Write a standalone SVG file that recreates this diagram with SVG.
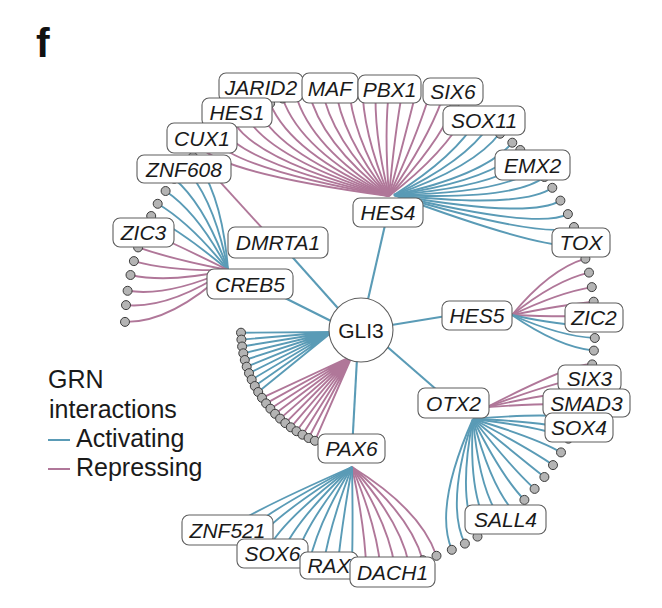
<svg xmlns="http://www.w3.org/2000/svg" width="662" height="608" viewBox="0 0 662 608">
<style>
.a{fill:none;stroke:#5a9bb6;stroke-width:1.9}
.r{fill:none;stroke:#b07799;stroke-width:1.9}
.h{fill:none;stroke:#5a9bb6;stroke-width:2.1}
.lf{fill:#b4b4b4;stroke:#3c3c3c;stroke-width:1}
.bx{fill:#fff;stroke:#5e5e5e;stroke-width:1.1}
.t{font-family:"Liberation Sans",Arial,Helvetica,sans-serif;font-size:21px;font-style:italic;fill:#1a1a1a;text-anchor:middle}
.g{font-family:"Liberation Sans",Arial,Helvetica,sans-serif;font-size:21px;fill:#1a1a1a;text-anchor:middle}
.lg{font-family:"Liberation Sans",Arial,Helvetica,sans-serif;font-size:25px;fill:#1a1a1a}
</style>
<rect width="662" height="608" fill="#fff"/>
<text x="36" y="57" font-family="Liberation Sans,Arial,sans-serif" font-weight="bold" font-size="41" fill="#111">f</text>

<g id="connectors">
<path class="h" d="M361,330 L388,212"/>
<path class="h" d="M361,334 L278,241"/>
<path class="h" d="M361,336 L250,280.5"/>
<path class="h" d="M361,330 L477,311"/>
<path class="h" d="M361,324 L453,404"/>
<path class="h" d="M358,340 L352,450"/>
<path class="r" d="M275,242.2 L205,165.3"/>
<path class="r" d="M389,196 Q445.8,152.4 466.7,111.4"/>
<path class="r" d="M389,196 Q436.4,146.3 454.4,105.4"/>
<path class="r" d="M389,196 Q426.6,141.3 441.9,100.2"/>
<path class="r" d="M389,196 Q416.4,137 429.1,95.7"/>
<path class="r" d="M389,196 Q405.7,133.8 416,92"/>
<path class="r" d="M389,196 Q394.9,131.5 402.8,89"/>
<path class="r" d="M389,196 Q383.9,130.2 389.4,86.9"/>
<path class="r" d="M389,196 Q373,130 376,85.6"/>
<path class="r" d="M389,196 Q362,130.6 362.5,85"/>
<path class="r" d="M389,196 Q351.1,132.3 348.9,85.3"/>
<path class="r" d="M389,196 Q340.5,134.8 335.4,86.3"/>
<path class="r" d="M389,196 Q330.2,138.3 322,88.2"/>
<path class="r" d="M389,196 Q320.2,142.4 308.7,90.8"/>
<path class="r" d="M389,196 Q310.7,147.4 295.6,94.3"/>
<path class="r" d="M389,196 Q300.7,150.3 282.7,98.5"/>
<path class="r" d="M389,196 Q290.9,153.6 270.1,103.4"/>
<path class="r" d="M389,196 Q280.3,155.9 257.7,109.1"/>
<path class="r" d="M389,196 Q269.7,158.6 245.7,115.5"/>
<path class="r" d="M389,196 Q258.9,161.8 234.1,122.7"/>
<path class="r" d="M389,196 Q247.9,165.3 222.9,130.5"/>
<path class="r" d="M389,196 Q236.6,169.3 212.1,139"/>
<path class="r" d="M389,196 Q225.2,173.7 201.8,148"/>
<path class="a" d="M394,195 Q553.5,254.1 580.8,244.2"/>
<path class="a" d="M394,195 Q545.7,239.8 574,227"/>
<path class="a" d="M394,195 Q538.5,229.6 567.9,214.1"/>
<path class="a" d="M394,195 Q530.6,218.9 560.4,200.6"/>
<path class="a" d="M394,195 Q522.4,208.8 552.3,187.8"/>
<path class="a" d="M394,195 Q514.7,200.5 544.4,177"/>
<path class="a" d="M394,195 Q507.1,193.2 536.6,167.3"/>
<path class="a" d="M394,195 Q499.5,186.5 528.5,158.3"/>
<path class="a" d="M394,195 Q491.9,180.4 520.3,150"/>
<path class="a" d="M394,195 Q484.6,175.2 512.3,142.7"/>
<path class="a" d="M394,195 Q474.5,167.2 500.1,132.7"/>
<path class="a" d="M394,195 Q465.3,161.6 489.4,125"/>
<path class="a" d="M394,195 Q455.8,156.3 478.2,117.8"/>
<path class="a" d="M228,270 Q222,192 193,156.8"/>
<path class="a" d="M228,270 Q214,198 184,166.6"/>
<path class="a" d="M228,270 Q205.8,205.7 174.3,178.7"/>
<path class="a" d="M228,270 Q198.9,213.7 165.6,191"/>
<path class="a" d="M228,270 Q190.9,223.4 157.7,203.8"/>
<path class="a" d="M228,270 Q184.6,233.2 151.2,216"/>
<path class="r" d="M228,270 Q178.4,245.3 144.5,230.5"/>
<path class="r" d="M228,270 Q173.1,259.6 138.1,247.4"/>
<path class="r" d="M228,270 Q170.3,271.4 133.9,261.1"/>
<path class="r" d="M228,270 Q168.6,283.4 130.5,275"/>
<path class="r" d="M228,270 Q168.1,296.9 127.6,290.8"/>
<path class="r" d="M228,270 Q169,309 126,305.1"/>
<path class="r" d="M228,270 Q171.1,322.9 125,321.9"/>
<path class="r" d="M512,315 Q549.9,269.1 585.4,258.7"/>
<path class="r" d="M512,315 Q554.7,280.5 589,272.6"/>
<path class="r" d="M512,315 Q558.5,292.7 591.8,287.1"/>
<path class="r" d="M512,315 Q560.8,305.2 593.7,301.7"/>
<path class="r" d="M512,315 Q561.6,317.2 594.7,315.6"/>
<path class="a" d="M512,315 Q561.5,325.9 595,325.7"/>
<path class="a" d="M512,315 Q560.4,336.4 594.8,338"/>
<path class="a" d="M512,315 Q558.4,347.1 593.9,350.6"/>
<path class="r" d="M487,407 Q575.4,361.8 592.2,364.4"/>
<path class="r" d="M487,407 Q574,375.1 589.6,378.5"/>
<path class="r" d="M487,407 Q571.8,388.4 586.2,392.5"/>
<path class="r" d="M487,407 Q568.6,401.5 582.1,406.2"/>
<path class="a" d="M473,419 Q557.9,411.6 577.1,419.6"/>
<path class="a" d="M473,419 Q552.2,421.7 572.1,431.2"/>
<path class="a" d="M473,419 Q547.6,427.9 568.4,438.7"/>
<path class="a" d="M473,419 Q538.5,438.8 561,452.4"/>
<path class="a" d="M473,419 Q530.3,449.3 553,465.1"/>
<path class="a" d="M473,419 Q521.3,458.8 544.4,477"/>
<path class="a" d="M473,419 Q511.7,468.3 534.6,488.9"/>
<path class="a" d="M473,419 Q501.6,476.6 524.4,499.9"/>
<path class="a" d="M473,419 Q490.1,484.2 512.9,510.8"/>
<path class="a" d="M473,419 Q479.3,490.9 501.4,520.3"/>
<path class="a" d="M473,419 Q468.2,496.4 489.7,528.8"/>
<path class="a" d="M473,419 Q456.9,500.9 477.5,536.6"/>
<path class="a" d="M473,419 Q445.4,504.5 464.9,543.6"/>
<path class="a" d="M473,419 Q433.7,507.1 451.8,549.8"/>
<path class="r" d="M352,467 Q420.5,509.3 436.5,555.8"/>
<path class="r" d="M352,467 Q410.3,515.1 422.8,560.2"/>
<path class="r" d="M352,467 Q399.6,519.8 408.9,563.7"/>
<path class="r" d="M352,467 Q388.3,523.6 394.7,566.3"/>
<path class="r" d="M352,467 Q376.8,526.3 380.5,568.1"/>
<path class="r" d="M352,467 Q365.1,527.7 366.2,568.9"/>
<path class="a" d="M352,467 Q353.2,528.1 351.8,568.9"/>
<path class="a" d="M352,467 Q341.4,527.3 337.5,567.9"/>
<path class="a" d="M352,467 Q329.6,525.3 323.2,566"/>
<path class="a" d="M352,467 Q318.2,522.1 309.1,563.3"/>
<path class="a" d="M352,467 Q305.7,523.1 295.2,559.6"/>
<path class="a" d="M352,467 Q292.9,523.2 281.6,555.1"/>
<path class="a" d="M352,467 Q279.7,522.6 268.2,549.8"/>
<path class="a" d="M352,467 Q266.1,521.5 255.1,543.6"/>
<path class="a" d="M352,467 Q252.3,519.7 242.5,536.6"/>
<path class="a" d="M352,467 Q237.9,517.4 230.3,528.8"/>
<path class="a" d="M332,332 L241,332.7 M332,332 L241.4,339.6 M332,332 L242.1,346.5 M332,332 L243.3,353.3 M332,332 L244.8,360 M332,332 L246.7,366.7 M332,332 L249,373.2 M332,332 L251.7,379.6 M332,332 L254.8,386 M332,332 L258.2,392"/>
<path class="r" d="M352,356 L262,397.8 M352,356 L266.1,403.4 M352,356 L270.4,408.7 M352,356 L275.1,413.8 M352,356 L280.1,418.6 M352,356 L285.3,423.1 M352,356 L290.8,427.3 M352,356 L296.5,431.2 M352,356 L302.5,434.7 M352,356 L308.6,438 M352,356 L314.9,440.8"/>
</g>

<g id="leaves">
<circle class="lf" cx="466.7" cy="111.4" r="4.5"/><circle class="lf" cx="454.4" cy="105.4" r="4.5"/><circle class="lf" cx="441.9" cy="100.2" r="4.5"/><circle class="lf" cx="429.1" cy="95.7" r="4.5"/><circle class="lf" cx="416" cy="92" r="4.5"/><circle class="lf" cx="402.8" cy="89" r="4.5"/><circle class="lf" cx="389.4" cy="86.9" r="4.5"/><circle class="lf" cx="376" cy="85.6" r="4.5"/><circle class="lf" cx="362.5" cy="85" r="4.5"/><circle class="lf" cx="348.9" cy="85.3" r="4.5"/><circle class="lf" cx="335.4" cy="86.3" r="4.5"/><circle class="lf" cx="322" cy="88.2" r="4.5"/><circle class="lf" cx="308.7" cy="90.8" r="4.5"/><circle class="lf" cx="295.6" cy="94.3" r="4.5"/><circle class="lf" cx="282.7" cy="98.5" r="4.5"/><circle class="lf" cx="270.1" cy="103.4" r="4.5"/><circle class="lf" cx="257.7" cy="109.1" r="4.5"/><circle class="lf" cx="245.7" cy="115.5" r="4.5"/><circle class="lf" cx="234.1" cy="122.7" r="4.5"/><circle class="lf" cx="222.9" cy="130.5" r="4.5"/><circle class="lf" cx="212.1" cy="139" r="4.5"/><circle class="lf" cx="201.8" cy="148" r="4.5"/>
<circle class="lf" cx="580.8" cy="244.2" r="4.5"/><circle class="lf" cx="574" cy="227" r="4.5"/><circle class="lf" cx="567.9" cy="214.1" r="4.5"/><circle class="lf" cx="560.4" cy="200.6" r="4.5"/><circle class="lf" cx="552.3" cy="187.8" r="4.5"/><circle class="lf" cx="544.4" cy="177" r="4.5"/><circle class="lf" cx="536.6" cy="167.3" r="4.5"/><circle class="lf" cx="528.5" cy="158.3" r="4.5"/><circle class="lf" cx="520.3" cy="150" r="4.5"/><circle class="lf" cx="512.3" cy="142.7" r="4.5"/><circle class="lf" cx="500.1" cy="133.7" r="4.5"/><circle class="lf" cx="489.4" cy="125" r="4.5"/><circle class="lf" cx="478.2" cy="117.8" r="4.5"/>
<circle class="lf" cx="193" cy="156.8" r="4.5"/><circle class="lf" cx="184" cy="166.6" r="4.5"/><circle class="lf" cx="174.3" cy="178.7" r="4.5"/><circle class="lf" cx="165.6" cy="191" r="4.5"/><circle class="lf" cx="157.7" cy="203.8" r="4.5"/><circle class="lf" cx="151.2" cy="216" r="4.5"/><circle class="lf" cx="144.5" cy="230.5" r="4.5"/><circle class="lf" cx="138.1" cy="247.4" r="4.5"/><circle class="lf" cx="133.9" cy="261.1" r="4.5"/><circle class="lf" cx="130.5" cy="275" r="4.5"/><circle class="lf" cx="127.6" cy="290.8" r="4.5"/><circle class="lf" cx="126" cy="305.1" r="4.5"/><circle class="lf" cx="125" cy="321.9" r="4.5"/>
<circle class="lf" cx="585.4" cy="258.7" r="4.5"/><circle class="lf" cx="589" cy="272.6" r="4.5"/><circle class="lf" cx="591.8" cy="287.1" r="4.5"/><circle class="lf" cx="593.7" cy="301.7" r="4.5"/><circle class="lf" cx="594.7" cy="315.6" r="4.5"/><circle class="lf" cx="595" cy="325.7" r="4.5"/><circle class="lf" cx="594.8" cy="338" r="4.5"/><circle class="lf" cx="593.9" cy="350.6" r="4.5"/>
<circle class="lf" cx="592.2" cy="364.4" r="4.5"/><circle class="lf" cx="589.6" cy="378.5" r="4.5"/><circle class="lf" cx="586.2" cy="392.5" r="4.5"/><circle class="lf" cx="582.1" cy="406.2" r="4.5"/><circle class="lf" cx="577.1" cy="419.6" r="4.5"/><circle class="lf" cx="572.1" cy="431.2" r="4.5"/><circle class="lf" cx="568.4" cy="438.7" r="4.5"/><circle class="lf" cx="561" cy="452.4" r="4.5"/><circle class="lf" cx="553" cy="465.1" r="4.5"/><circle class="lf" cx="544.4" cy="477" r="4.5"/><circle class="lf" cx="534.6" cy="488.9" r="4.5"/><circle class="lf" cx="524.4" cy="499.9" r="4.5"/><circle class="lf" cx="512.9" cy="510.8" r="4.5"/><circle class="lf" cx="501.4" cy="520.3" r="4.5"/><circle class="lf" cx="489.7" cy="528.8" r="4.5"/><circle class="lf" cx="477.5" cy="536.6" r="4.5"/><circle class="lf" cx="464.9" cy="543.6" r="4.5"/><circle class="lf" cx="451.8" cy="549.8" r="4.5"/>
<circle class="lf" cx="436.5" cy="555.8" r="4.5"/><circle class="lf" cx="422.8" cy="560.2" r="4.5"/><circle class="lf" cx="408.9" cy="563.7" r="4.5"/><circle class="lf" cx="394.7" cy="566.3" r="4.5"/><circle class="lf" cx="380.5" cy="568.1" r="4.5"/><circle class="lf" cx="366.2" cy="568.9" r="4.5"/><circle class="lf" cx="351.8" cy="568.9" r="4.5"/><circle class="lf" cx="337.5" cy="567.9" r="4.5"/><circle class="lf" cx="323.2" cy="566" r="4.5"/><circle class="lf" cx="309.1" cy="563.3" r="4.5"/><circle class="lf" cx="295.2" cy="559.6" r="4.5"/><circle class="lf" cx="281.6" cy="555.1" r="4.5"/><circle class="lf" cx="268.2" cy="549.8" r="4.5"/><circle class="lf" cx="255.1" cy="543.6" r="4.5"/><circle class="lf" cx="242.5" cy="536.6" r="4.5"/><circle class="lf" cx="230.3" cy="528.8" r="4.5"/>
<circle class="lf" cx="241" cy="332.7" r="4.5"/><circle class="lf" cx="241.4" cy="339.6" r="4.5"/><circle class="lf" cx="242.1" cy="346.5" r="4.5"/><circle class="lf" cx="243.3" cy="353.3" r="4.5"/><circle class="lf" cx="244.8" cy="360" r="4.5"/><circle class="lf" cx="246.7" cy="366.7" r="4.5"/><circle class="lf" cx="249" cy="373.2" r="4.5"/><circle class="lf" cx="251.7" cy="379.6" r="4.5"/><circle class="lf" cx="254.8" cy="386" r="4.5"/><circle class="lf" cx="258.2" cy="392" r="4.5"/><circle class="lf" cx="262" cy="397.8" r="4.5"/><circle class="lf" cx="266.1" cy="403.4" r="4.5"/><circle class="lf" cx="270.4" cy="408.7" r="4.5"/><circle class="lf" cx="275.1" cy="413.8" r="4.5"/><circle class="lf" cx="280.1" cy="418.6" r="4.5"/><circle class="lf" cx="285.3" cy="423.1" r="4.5"/><circle class="lf" cx="290.8" cy="427.3" r="4.5"/><circle class="lf" cx="296.5" cy="431.2" r="4.5"/><circle class="lf" cx="302.5" cy="434.7" r="4.5"/><circle class="lf" cx="308.6" cy="438" r="4.5"/><circle class="lf" cx="314.9" cy="440.8" r="4.5"/>
</g>

<g id="node-GLI3"><circle cx="361" cy="330" r="32" fill="#fff" stroke="#5e5e5e" stroke-width="1.1"/><text class="g" x="361" y="337.5">GLI3</text></g>
<g id="node-HES4"><rect class="bx" x="353" y="198" width="70" height="29" rx="7"/><text class="t" x="388" y="220">HES4</text></g>
<g id="node-DMRTA1"><rect class="bx" x="228" y="227" width="100" height="31" rx="7"/><text class="t" x="278" y="250">DMRTA1</text></g>
<g id="node-CREB5"><rect class="bx" x="207" y="269" width="86" height="30" rx="7"/><text class="t" x="250" y="291.5">CREB5</text></g>
<g id="node-HES5"><rect class="bx" x="442" y="301" width="70" height="29" rx="7"/><text class="t" x="477" y="323">HES5</text></g>
<g id="node-OTX2"><rect class="bx" x="418" y="388" width="71" height="30" rx="7"/><text class="t" x="453.5" y="410.5">OTX2</text></g>
<g id="node-PAX6"><rect class="bx" x="318" y="434" width="67" height="29" rx="7"/><text class="t" x="351.5" y="456">PAX6</text></g>
<g id="node-JARID2"><rect class="bx" x="219" y="73" width="84" height="29" rx="7"/><text class="t" x="261" y="95">JARID2</text></g>
<g id="node-MAF"><rect class="bx" x="302" y="73" width="56" height="30" rx="7"/><text class="t" x="330" y="95.5">MAF</text></g>
<g id="node-PBX1"><rect class="bx" x="358" y="75" width="63" height="28" rx="7"/><text class="t" x="389.5" y="96.5">PBX1</text></g>
<g id="node-SIX6"><rect class="bx" x="423" y="78" width="60" height="27" rx="7"/><text class="t" x="453" y="99">SIX6</text></g>
<g id="node-SOX11"><rect class="bx" x="443" y="106" width="82" height="29" rx="7"/><text class="t" x="484" y="128">SOX11</text></g>
<g id="node-EMX2"><rect class="bx" x="495" y="150" width="75" height="30" rx="7"/><text class="t" x="532.5" y="172.5">EMX2</text></g>
<g id="node-TOX"><rect class="bx" x="552" y="228" width="58" height="29" rx="7"/><text class="t" x="581" y="250">TOX</text></g>
<g id="node-HES1"><rect class="bx" x="202" y="98" width="70" height="29" rx="7"/><text class="t" x="237" y="120">HES1</text></g>
<g id="node-CUX1"><rect class="bx" x="167" y="123" width="70" height="30" rx="7"/><text class="t" x="202" y="145.5">CUX1</text></g>
<g id="node-ZNF608"><rect class="bx" x="137" y="155" width="94" height="28" rx="7"/><text class="t" x="184" y="176.5">ZNF608</text></g>
<g id="node-ZIC3"><rect class="bx" x="113" y="218" width="61" height="29" rx="7"/><text class="t" x="143.5" y="240">ZIC3</text></g>
<g id="node-ZIC2"><rect class="bx" x="565" y="303" width="58" height="29" rx="7"/><text class="t" x="594" y="325">ZIC2</text></g>
<g id="node-SIX3"><rect class="bx" x="558" y="365" width="63" height="27" rx="7"/><text class="t" x="589.5" y="386">SIX3</text></g>
<g id="node-SMAD3"><rect class="bx" x="543" y="389" width="87" height="28" rx="7"/><text class="t" x="586.5" y="410.5">SMAD3</text></g>
<g id="node-SOX4"><rect class="bx" x="545" y="413" width="68" height="29" rx="7"/><text class="t" x="579" y="435">SOX4</text></g>
<g id="node-SALL4"><rect class="bx" x="465" y="505" width="81" height="29" rx="7"/><text class="t" x="505.5" y="527">SALL4</text></g>
<g id="node-ZNF521"><rect class="bx" x="182" y="515" width="91" height="30" rx="7"/><text class="t" x="227.5" y="537.5">ZNF521</text></g>
<g id="node-SOX6"><rect class="bx" x="237" y="539" width="71" height="29" rx="7"/><text class="t" x="272.5" y="561">SOX6</text></g>
<g id="node-RAX"><rect class="bx" x="300" y="552" width="58" height="27" rx="7"/><text class="t" x="329" y="573">RAX</text></g>
<g id="node-DACH1"><rect class="bx" x="350" y="557" width="85" height="30" rx="7"/><text class="t" x="392.5" y="579.5">DACH1</text></g>

<g id="legend">
<text class="lg" x="48" y="388">GRN</text>
<text class="lg" x="49" y="418">interactions</text>
<line x1="48" y1="440" x2="70" y2="440" stroke="#5a9bb6" stroke-width="2"/>
<text class="lg" x="76" y="447">Activating</text>
<line x1="48" y1="469" x2="70" y2="469" stroke="#b07799" stroke-width="2"/>
<text class="lg" x="76" y="476">Repressing</text>
</g>
</svg>
